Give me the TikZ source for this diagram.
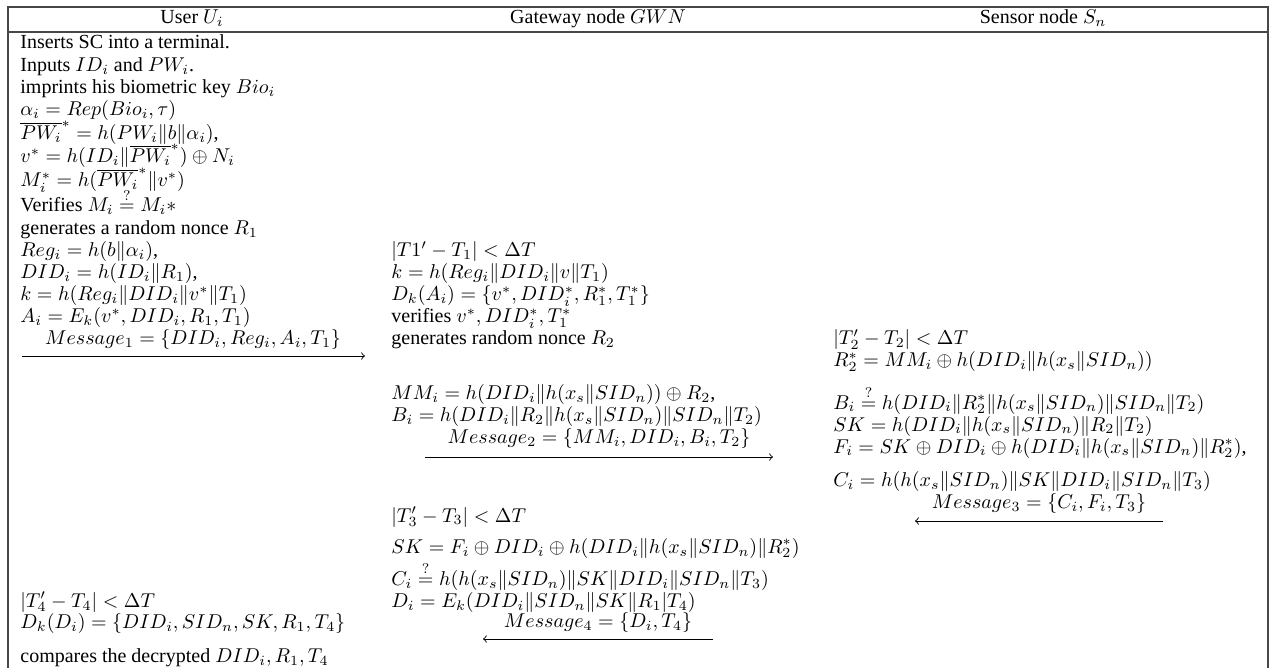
\documentclass[tikz,border=0pt]{standalone}
\usepackage{amsmath,amssymb}
\usepackage[no-math]{fontspec}
\setmainfont{Liberation Serif}
\begin{document}
\begin{tikzpicture}[x=0.5pt,y=-0.5pt,
  txt/.style={anchor=base west,inner sep=0pt,font=\fontsize{10}{12}\selectfont},
  head/.style={anchor=base,inner sep=0pt,font=\fontsize{10}{12}\selectfont},
  lbl/.style={anchor=base,inner sep=0pt,font=\fontsize{10}{12}\selectfont},
  rule/.style={line width=1pt,draw=black!72},
  msg/.style={line width=0.45pt,-to}]
\useasboundingbox (0,0) rectangle (1270,668);
% table frame
\draw[rule] (8,668) -- (8,7) -- (1268,7) -- (1268,668);
\draw[rule] (8,32) -- (1268,32);
% column heads
\node[head] (hU) at (192,24) {User $U_i$};
\node[head] (hG) at (598,24) {Gateway node $GWN$};
\node[head] (hS) at (1043,24) {Sensor node $S_n$};
% user U_i
\node[txt] (u1) at (20,49) {Inserts SC into a terminal.};
\node[txt] (u2) at (20,72) {Inputs $ID_i$ and $PW_i$.};
\node[txt] (u3) at (20,94) {imprints his biometric key $Bio_i$};
\node[txt] (u4) at (20,116) {$\alpha_i = Rep(Bio_i,\tau)$};
\node[txt] (u5) at (20,140) {$\overline{PW_i}^{*} = h(PW_i\|b\|\alpha_i)$,};
\node[txt] (u6) at (20,163) {$v^{*} = h(ID_i\|\overline{PW_i}^{*})\oplus N_i$};
\node[txt] (u7) at (20,187) {$M_i^{*} = h(\overline{PW_i}^{*}\|v^{*})$};
\node[txt] (u8) at (20,212) {Verifies $M_i \stackrel{?}{=} M_i*$};
\node[txt] (u9) at (20,235) {generates a random nonce $R_1$};
\node[txt] (u10) at (20,257) {$Reg_i = h(b\|\alpha_i)$,};
\node[txt] (u11) at (20,279) {$DID_i = h(ID_i\|R_1)$,};
\node[txt] (u12) at (20,301) {$k = h(Reg_i\|DID_i\|v^*\|T_1)$};
\node[txt] (u13) at (20,323) {$A_i = E_k(v^*, DID_i, R_1, T_1)$};
\node[lbl] (m1) at (193,345) {$Message_1 = \{DID_i, Reg_i, A_i, T_1\}$};
\coordinate (m1a) at (22,356);
\coordinate (m1b) at (365,356);
\node[txt] (u14) at (20,607) {$|T_4' - T_4| < \Delta T$};
\node[txt] (u15) at (20,628) {$D_k(D_i) = \{DID_i, SID_n, SK, R_1, T_4\}$};
\node[txt] (u16) at (20,662) {compares the decrypted $DID_i, R_1, T_4$};
% gateway node GWN
\node[txt] (g1) at (391,257) {$|T1' - T_1| < \Delta T$};
\node[txt] (g2) at (391,279) {$k = h(Reg_i\|DID_i\|v\|T_1)$};
\node[txt] (g3) at (391,301) {$D_k(A_i) = \{v^*, DID_i^*, R_1^*, T_1^*\}$};
\node[txt] (g4) at (391,323) {verifies $v^*, DID_i^*, T_1^*$};
\node[txt] (g5) at (391,345) {generates random nonce $R_2$};
\node[txt] (g6) at (391,400) {$MM_i = h(DID_i\|h(x_s\|SID_n))\oplus R_2$,};
\node[txt] (g7) at (391,422) {$B_i = h(DID_i\|R_2\|h(x_s\|SID_n)\|SID_n\|T_2)$};
\node[lbl] (m2) at (599,444) {$Message_2 = \{MM_i, DID_i, B_i, T_2\}$};
\coordinate (m2a) at (425,457);
\coordinate (m2b) at (773,457);
\node[txt] (g8) at (391,522) {$|T_3' - T_3| < \Delta T$};
\node[txt] (g9) at (391,553) {$SK = F_i\oplus DID_i\oplus h(DID_i\|h(x_s\|SID_n)\|R_2^*)$};
\node[txt] (g10) at (391,585) {$C_i \stackrel{?}{=} h(h(x_s\|SID_n)\|SK\|DID_i\|SID_n\|T_3)$};
\node[txt] (g11) at (391,607) {$D_i = E_k(DID_i\|SID_n\|SK\|R_1|T_4)$};
\node[lbl] (m4) at (598,627) {$Message_4 = \{D_i, T_4\}$};
\coordinate (m4a) at (713,639);
\coordinate (m4b) at (483,639);
% sensor node S_n
\node[txt] (s1) at (833,345) {$|T_2' - T_2| < \Delta T$};
\node[txt] (s2) at (833,367) {$R_2^* = MM_i\oplus h(DID_i\|h(x_s\|SID_n))$};
\node[txt] (s3) at (833,409) {$B_i \stackrel{?}{=} h(DID_i\|R_2^*\|h(x_s\|SID_n)\|SID_n\|T_2)$};
\node[txt] (s4) at (833,431) {$SK = h(DID_i\|h(x_s\|SID_n)\|R_2\|T_2)$};
\node[txt] (s5) at (833,453) {$F_i = SK\oplus DID_i\oplus h(DID_i\|h(x_s\|SID_n)\|R_2^*)$,};
\node[txt] (s6) at (833,487) {$C_i = h(h(x_s\|SID_n)\|SK\|DID_i\|SID_n\|T_3)$};
\node[lbl] (m3) at (1039,509) {$Message_3 = \{C_i, F_i, T_3\}$};
\coordinate (m3a) at (1163,521);
\coordinate (m3b) at (915,521);
% messages
\draw[msg] (m1a) -- (m1b);
\draw[msg] (m2a) -- (m2b);
\draw[msg] (m3a) -- (m3b);
\draw[msg] (m4a) -- (m4b);
\end{tikzpicture}
\end{document}
